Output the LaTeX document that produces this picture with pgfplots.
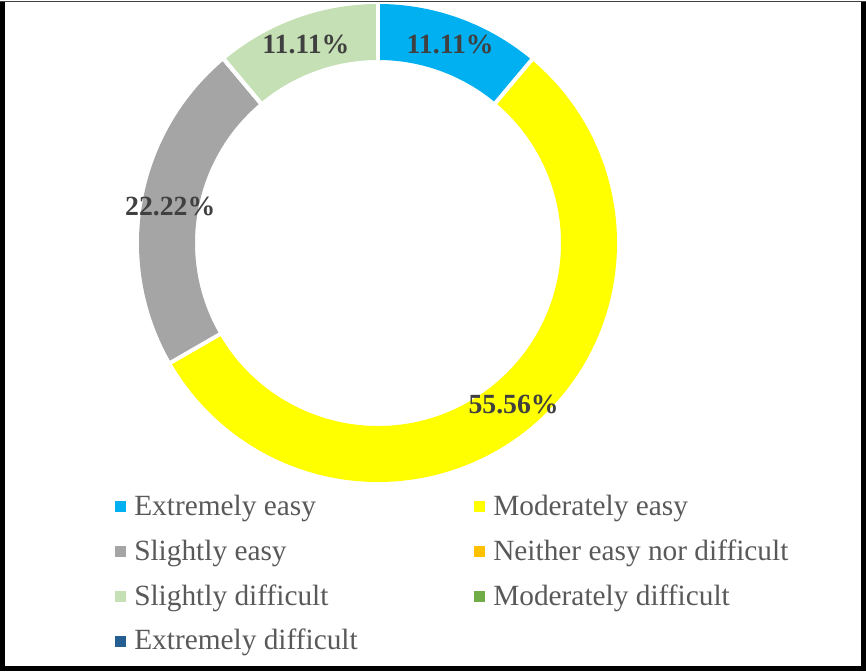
\documentclass[border=0pt]{standalone}
\usepackage{pgfplots}
\pgfplotsset{compat=1.18}
\usepackage{pgfplotstable}
\usepackage{fontspec}
\setmainfont{Liberation Serif}

\definecolor{cExtEasy}{HTML}{00B0F0}
\definecolor{cModEasy}{HTML}{FFFF00}
\definecolor{cSliEasy}{HTML}{A5A5A5}
\definecolor{cNeither}{HTML}{FFC000}
\definecolor{cSliDiff}{HTML}{C5E0B4}
\definecolor{cModDiff}{HTML}{70AD47}
\definecolor{cExtDiff}{HTML}{255E91}
\definecolor{labelgray}{HTML}{404040}
\definecolor{legendgray}{HTML}{595959}

% Share of answers per category (percent), in drawing order (clockwise from the top)
\pgfplotstableread[col sep=comma]{
name,value,color
Extremely easy,11.11,cExtEasy
Moderately easy,55.56,cModEasy
Slightly easy,22.22,cSliEasy
Neither easy nor difficult,0,cNeither
Slightly difficult,11.11,cSliDiff
Moderately difficult,0,cModDiff
Extremely difficult,0,cExtDiff
}\donutdata

% Ring geometry (axis units; one unit = 0.75pt)
\def\cx{378}
\def\cy{428.5}
\def\rout{239}
\def\rin{183}

\begin{document}
\begin{tikzpicture}
\begin{axis}[
  x=0.75pt, y=0.75pt,
  xmin=0, xmax=866, ymin=0, ymax=670,
  hide axis, clip=false,
]
\path (axis cs:0,0) rectangle (axis cs:866,670);

\pgfplotstablegetrowsof{\donutdata}
\pgfmathtruncatemacro\lastrow{\pgfplotsretval-1}

% ring segments
\def\cum{0}
\pgfplotsforeachungrouped \i in {0,...,\lastrow}{%
  \pgfplotstablegetelem{\i}{value}\of\donutdata \let\val\pgfplotsretval
  \pgfplotstablegetelem{\i}{color}\of\donutdata \let\col\pgfplotsretval
  \pgfmathsetmacro\aStart{90-3.6*\cum}
  \pgfmathsetmacro\aEnd{90-3.6*(\cum+\val)}
  \ifdim\val pt>0pt
    \edef\seg{\noexpand\fill[\col]
      (axis cs:{\cx+\rout*cos(\aStart)},{\cy+\rout*sin(\aStart)})
      arc[start angle=\aStart, end angle=\aEnd, radius=179.25pt]
      -- (axis cs:{\cx+\rin*cos(\aEnd)},{\cy+\rin*sin(\aEnd)})
      arc[start angle=\aEnd, end angle=\aStart, radius=137.25pt]
      -- cycle;}%
    \seg
  \fi
  \pgfmathsetmacro\cum{\cum+\val}%
}

% white separators between segments
\def\cum{0}
\pgfplotsforeachungrouped \i in {0,...,\lastrow}{%
  \pgfplotstablegetelem{\i}{value}\of\donutdata \let\val\pgfplotsretval
  \pgfmathsetmacro\aStart{90-3.6*\cum}
  \edef\sep{\noexpand\draw[white, line width=3pt]
    (axis cs:{\cx+(\rin-2)*cos(\aStart)},{\cy+(\rin-2)*sin(\aStart)})
    -- (axis cs:{\cx+(\rout+2)*cos(\aStart)},{\cy+(\rout+2)*sin(\aStart)});}%
  \sep
  \pgfmathsetmacro\cum{\cum+\val}%
}

% data labels
\def\cum{0}
\pgfplotsforeachungrouped \i in {0,...,\lastrow}{%
  \pgfplotstablegetelem{\i}{value}\of\donutdata \let\val\pgfplotsretval
  \pgfmathsetmacro\aMid{90-3.6*(\cum+\val/2)}
  \ifdim\val pt>0pt
    \edef\lab{\noexpand\node[text=labelgray, font=\noexpand\fontsize{20.8}{24}\noexpand\selectfont\noexpand\bfseries]
      at (axis cs:{\cx+211*cos(\aMid)},{\cy+211*sin(\aMid)}) {\val\noexpand\%};}%
    \lab
  \fi
  \pgfmathsetmacro\cum{\cum+\val}%
}

% legend: two columns, rows 44.83 units apart
\pgfplotsforeachungrouped \i in {0,...,\lastrow}{%
  \pgfplotstablegetelem{\i}{name}\of\donutdata \let\nm\pgfplotsretval
  \pgfplotstablegetelem{\i}{color}\of\donutdata \let\col\pgfplotsretval
  \pgfmathtruncatemacro\lx{mod(\i,2)}
  \pgfmathtruncatemacro\lrow{div(\i,2)}
  \pgfmathsetmacro\sx{115+359*\lx}
  \pgfmathsetmacro\tx{134+359*\lx}
  \pgfmathsetmacro\by{670-514-44.83*\lrow}
  \pgfmathsetmacro\sy{\by+3}
  \edef\leg{\noexpand\fill[\col] (axis cs:\sx,\sy) rectangle (axis cs:{\sx+11},{\sy+11});
    \noexpand\node[anchor=base west, inner sep=0pt, text=legendgray,
      font=\noexpand\fontsize{22}{26}\noexpand\selectfont] at (axis cs:\tx,\by) {\nm};}%
  \leg
}

% frame
\fill[black] (axis cs:0,0) rectangle (axis cs:5,670);
\fill[black] (axis cs:861,0) rectangle (axis cs:865.5,670);
\fill[black] (axis cs:0,0.5) rectangle (axis cs:865.5,5);
\fill[labelgray] (axis cs:0,669) rectangle (axis cs:866,670);
\end{axis}
\end{tikzpicture}
\end{document}
